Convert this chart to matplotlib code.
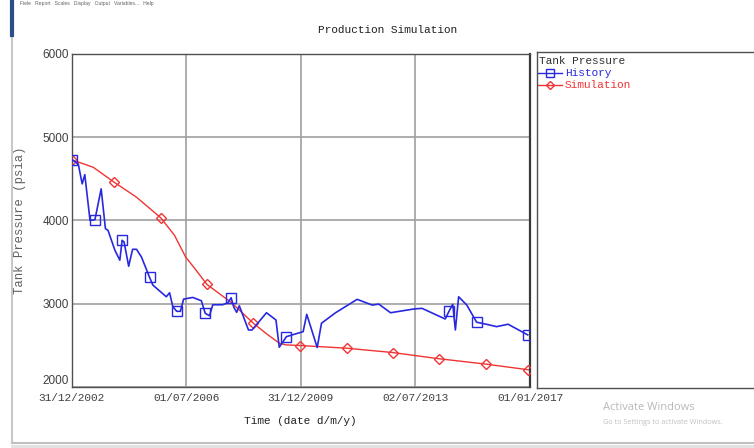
import matplotlib
matplotlib.use("Agg")
import matplotlib.pyplot as plt

# ---- data -------------------------------------------------------------
hist_year = [2003.02, 2003.20, 2003.32, 2003.40, 2003.56, 2003.71, 2003.90, 2004.03,
             2004.11, 2004.32, 2004.47, 2004.54, 2004.60, 2004.74, 2004.86, 2004.98,
             2005.13, 2005.38, 2005.48, 2005.89, 2005.99, 2006.09, 2006.21, 2006.32,
             2006.42, 2006.70, 2006.96, 2007.08, 2007.21, 2007.31, 2007.61, 2007.77,
             2007.87, 2007.95, 2008.04, 2008.12, 2008.40, 2008.51, 2008.95, 2009.24,
             2009.34, 2009.56, 2010.07, 2010.18, 2010.50, 2010.63, 2011.06, 2011.72,
             2012.18, 2012.38, 2012.74, 2013.45, 2013.70, 2014.41, 2014.53, 2014.64,
             2014.72, 2014.82, 2015.07, 2015.37, 2015.63, 2015.98, 2016.33, 2016.93]
hist_psia = [4727, 4679, 4440, 4551, 4001, 4010, 4380, 3902,
             3881, 3642, 3523, 3762, 3742, 3451, 3654, 3654,
             3562, 3316, 3224, 3084, 3132, 2964, 2909, 2909,
             3056, 3076, 3036, 2885, 2856, 2988, 2988, 3012,
             3072, 2960, 2897, 2976, 2685, 2685, 2892, 2805,
             2478, 2605, 2665, 2873, 2474, 2766, 2892, 3053,
             2984, 2996, 2892, 2937, 2945, 2817, 2913, 2993,
             2685, 3084, 2984, 2778, 2757, 2725, 2754, 2626]
hist_marker_years = [2003.02, 2003.71, 2004.54, 2005.38, 2006.21, 2007.08,
                     2007.87, 2009.56, 2014.53, 2015.37, 2016.93]

sim_year = [2003.02, 2003.66, 2004.30, 2004.98, 2005.72, 2006.14, 2006.48, 2006.80,
            2007.13, 2007.50, 2007.87, 2008.55, 2008.93, 2009.34, 2009.54, 2009.98,
            2010.70, 2011.40, 2012.10, 2012.81, 2013.52, 2014.23, 2014.94, 2015.65,
            2016.30, 2016.95]
sim_psia = [4727, 4639, 4459, 4280, 4033, 3822, 3562, 3403,
            3232, 3124, 3017, 2766, 2646, 2526, 2506, 2498,
            2482, 2466, 2440, 2414, 2376, 2339, 2307, 2275,
            2241, 2207]
sim_marker_years = [2003.02, 2004.30, 2005.72, 2007.13, 2008.55, 2009.98,
                    2011.40, 2012.81, 2014.23, 2015.65, 2016.95]

x_ticks = [2003.0, 2006.5, 2010.0, 2013.5, 2017.0]
x_tick_labels = ["31/12/2002", "01/07/2006", "31/12/2009", "02/07/2013", "01/01/2017"]
y_ticks = [2000, 3000, 4000, 5000, 6000]

# ---- style ------------------------------------------------------------
MONO = "Liberation Mono"
SANS = "Liberation Sans"
BLUE = "#2828e0"
RED = "#f03434"
GRID = "#a0a0a0"
FRAME = "#505050"
TEXT = "#404040"

W, H = 754, 448
fig = plt.figure(figsize=(W / 100, H / 100), dpi=100)
fig.patch.set_facecolor("white")


def fx(px):
    return px / W


def fy(py):
    return 1 - py / H


# ---- main plot --------------------------------------------------------
ax = fig.add_axes([fx(71.7), fy(387), fx(530 - 71.7), fy(54) - fy(387)])
ax.set_xlim(2003.0, 2017.0)
ax.set_ylim(2000, 6000)
ax.set_xticks(x_ticks)
ax.set_xticklabels(x_tick_labels, fontfamily=MONO, fontsize=8, color=TEXT)
ax.set_yticks(y_ticks)
ax.set_yticklabels([str(v) for v in y_ticks], fontfamily=SANS, fontsize=8.5, color=TEXT)
ax.get_yticklabels()[0].set_va("bottom")
ax.tick_params(axis="both", length=0)
ax.tick_params(axis="x", pad=4)
ax.tick_params(axis="y", pad=2)
ax.grid(True, color=GRID, linewidth=1.2)
ax.set_axisbelow(True)
for name, sp in ax.spines.items():
    sp.set_color(FRAME)
    sp.set_linewidth(1.0)
ax.spines["right"].set_linewidth(1.6)
ax.spines["right"].set_color("#383838")

hist_marks = [hist_year.index(v) for v in hist_marker_years]
sim_marks = [sim_year.index(v) for v in sim_marker_years]

ax.plot(sim_year, sim_psia, color=RED, linewidth=1.0, marker="D", markersize=5,
        markerfacecolor="none", markeredgecolor=RED, markeredgewidth=1.0,
        markevery=sim_marks, zorder=3)
ax.plot(hist_year, hist_psia, color=BLUE, linewidth=1.2, marker="s", markersize=7,
        markerfacecolor="none", markeredgecolor=BLUE, markeredgewidth=1.0,
        markevery=hist_marks, zorder=4)

fig.text(fx(388), fy(30), "Production Simulation", fontfamily=MONO, fontsize=8,
         color="#202020", ha="center", va="center")
fig.text(fx(20), fy(220), "Tank Pressure (psia)", fontfamily=MONO, fontsize=8.8,
         color="#606060", ha="center", va="center", rotation=90)
fig.text(fx(300), fy(421), "Time (date d/m/y)", fontfamily=MONO, fontsize=8,
         color="#202020", ha="center", va="center")

# ---- legend panel -----------------------------------------------------
lg = fig.add_axes([fx(536.5), fy(388), fx(760 - 536.5), fy(52) - fy(388)])
lg.set_xlim(536.5, 760)
lg.set_ylim(388, 52)
lg.set_xticks([])
lg.set_yticks([])
for sp in lg.spines.values():
    sp.set_color(FRAME)
    sp.set_linewidth(1.0)
lg.text(539, 61, "Tank Pressure", fontfamily=MONO, fontsize=8, color="#303030",
        ha="left", va="center")
lg.plot([538, 562], [73, 73], color=BLUE, linewidth=1.0)
lg.plot([550], [73], marker="s", markersize=6, markerfacecolor="none",
        markeredgecolor=BLUE, linestyle="none")
lg.text(565, 73, "History", fontfamily=MONO, fontsize=8, color=BLUE,
        ha="left", va="center")
lg.plot([538, 562], [85, 85], color=RED, linewidth=1.0)
lg.plot([550], [85], marker="D", markersize=4.5, markerfacecolor="none",
        markeredgecolor=RED, linestyle="none")
lg.text(565, 85, "Simulation", fontfamily=MONO, fontsize=8, color=RED,
        ha="left", va="center")

# ---- window chrome ----------------------------------------------------
chrome = fig.add_axes([0, 0, 1, 1], zorder=-5)
chrome.set_xlim(0, W)
chrome.set_ylim(H, 0)
chrome.axis("off")
chrome.plot([12, 12], [35, 442], color="#c8c8c8", linewidth=1.5)
chrome.plot([11.5, 11.5], [0, 35], color="#2c4f8c", linewidth=3)
chrome.plot([12, W], [443, 443], color="#c0c0c0", linewidth=1.5)
chrome.plot([12, W], [446, 446], color="#e0e0e0", linewidth=2)
chrome.text(20, 4, "Fiele   Report   Scales   Display   Output   Variables...   Help",
            fontfamily=SANS, fontsize=3.6, color="#606060", ha="left", va="center")
chrome.text(603, 408, "Activate Windows", fontfamily="Open Sans", fontsize=8,
            color="#b8b8b8", ha="left", va="center")
chrome.text(603, 422, "Go to Settings to activate Windows.", fontfamily="Open Sans",
            fontsize=5.2, color="#c0c0c0", ha="left", va="center")

fig.savefig("out.png", dpi=100, facecolor="white")
